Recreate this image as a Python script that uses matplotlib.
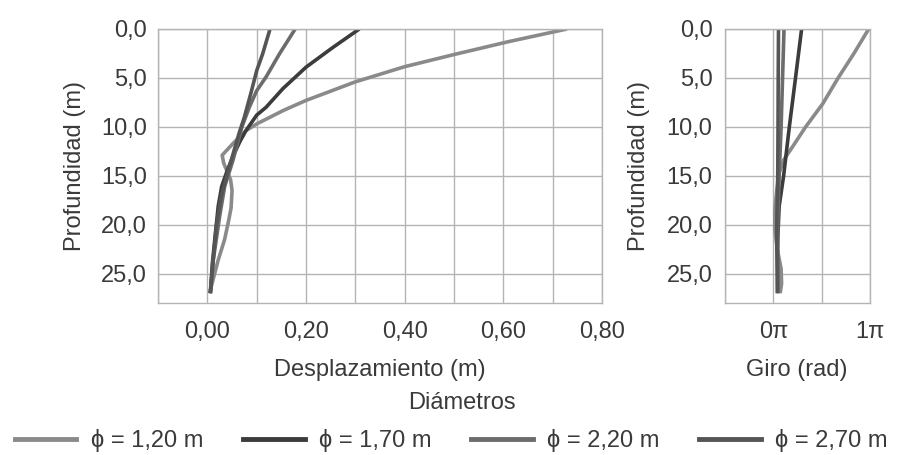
import matplotlib
matplotlib.use("Agg")
import matplotlib.pyplot as plt
from matplotlib.lines import Line2D

plt.rcParams['font.family'] = ['Liberation Sans', 'DejaVu Sans']
plt.rcParams['text.color'] = '#3a3a3a'
plt.rcParams['xtick.color'] = '#3a3a3a'
plt.rcParams['ytick.color'] = '#3a3a3a'

# series labels and colours
labels = ['ϕ = 1,20 m', 'ϕ = 1,70 m', 'ϕ = 2,20 m', 'ϕ = 2,70 m']
colors = ['#8a8a8a', '#3c3c3c', '#6c6c6c', '#555555']

# desplazamiento (m) vs profundidad (m)
depth_d_120 = [0, 1.3, 2.55, 3.85, 5.4, 7.3, 8.3, 9.7, 10.4, 11.7, 12.9, 13.7, 15.4, 16.5, 18.3, 19.6, 21.5, 23.6, 26.3, 27]
disp_120 = [0.729, 0.61, 0.505, 0.40, 0.30, 0.20, 0.155, 0.10, 0.078, 0.052, 0.030, 0.033, 0.047, 0.050, 0.048, 0.043, 0.035, 0.022, 0.008, 0.005]
depth_d_170 = [0, 1.9, 3.9, 6.1, 8.0, 8.8, 10.4, 11.5, 13.0, 14.5, 16.1, 18.1, 21.5, 24, 27]
disp_170 = [0.308, 0.254, 0.20, 0.153, 0.119, 0.10, 0.078, 0.066, 0.052, 0.040, 0.029, 0.022, 0.015, 0.010, 0.006]
depth_d_220 = [0, 2.55, 4.9, 6.3, 8.0, 10.0, 13.4, 16.1, 19.1, 23.6, 27]
disp_220 = [0.178, 0.146, 0.119, 0.10, 0.085, 0.070, 0.052, 0.035, 0.025, 0.012, 0.006]
depth_d_270 = [0, 2.55, 4.25, 6.6, 9.0, 10.7, 14.0, 17.1, 20.2, 23.5, 27]
disp_270 = [0.127, 0.112, 0.10, 0.088, 0.075, 0.064, 0.045, 0.028, 0.018, 0.012, 0.006]

# giro (en unidades de pi) vs profundidad
depth_g_120 = [0, 2.55, 5, 7.65, 10, 12.1, 13.4, 14.7, 16.5, 18.5, 20.5, 22.5, 24.5, 26, 27]
giro_120 = [0.986, 0.83, 0.67, 0.51, 0.334, 0.194, 0.106, 0.06, 0.035, 0.015, 0.015, 0.04, 0.08, 0.085, 0.07]
depth_g_170 = [0, 5, 10, 15, 18.1, 22.5, 27]
giro_170 = [0.292, 0.229, 0.165, 0.106, 0.06, 0.04, 0.05]
depth_g_220 = [0, 5, 10, 15, 20, 27]
giro_220 = [0.11, 0.095, 0.08, 0.06, 0.045, 0.05]
depth_g_270 = [0, 5, 10, 15, 20, 27]
giro_270 = [0.053, 0.05, 0.048, 0.045, 0.035, 0.04]

depth_ticks = [0, 5, 10, 15, 20, 25]
depth_ticklabels = ['0,0', '5,0', '10,0', '15,0', '20,0', '25,0']
disp_ticklabels = ['0,00', '0,20', '0,40', '0,60', '0,80']
giro_ticklabels = ['0π', '1π']

disp_series = [(disp_120, depth_d_120), (disp_170, depth_d_170),
               (disp_220, depth_d_220), (disp_270, depth_d_270)]
giro_series = [(giro_120, depth_g_120), (giro_170, depth_g_170),
               (giro_220, depth_g_220), (giro_270, depth_g_270)]

fig = plt.figure(figsize=(8.99, 4.55), dpi=100)
ax1 = fig.add_axes([0.1758, 0.3341, 0.4939, 0.6022])
ax2 = fig.add_axes([0.8065, 0.3341, 0.1613, 0.6022])

fs = 17
grid_c = '#b4b4b4'

for ax in (ax1, ax2):
    ax.set_ylim(28, 0)
    ax.set_yticks(depth_ticks)
    ax.set_yticklabels(depth_ticklabels, fontsize=fs)
    ax.grid(True, color=grid_c, linewidth=1.0)
    ax.set_axisbelow(True)
    ax.tick_params(length=0)
    for s in ax.spines.values():
        s.set_color(grid_c)
        s.set_linewidth(1.0)

# desplazamiento
for (x, y), c in zip(disp_series, colors):
    ax1.plot(x, y, color=c, linewidth=2.6, solid_capstyle='butt', solid_joinstyle='round')
ax1.set_xlim(-0.1, 0.8)
ax1.set_xticks([i / 10 for i in range(-1, 9)])
ax1.set_xticklabels([''] + sum([[lab, ''] for lab in disp_ticklabels], [])[:-1], fontsize=fs)
ax1.tick_params(axis='x', pad=13)
ax1.tick_params(axis='y', pad=8)

# giro
for (x, y), c in zip(giro_series, colors):
    ax2.plot(x, y, color=c, linewidth=2.6, solid_capstyle='butt', solid_joinstyle='round')
ax2.set_xlim(-0.5, 1.0)
ax2.set_xticks([-0.5, 0, 0.5, 1.0])
ax2.set_xticklabels(['', giro_ticklabels[0], '', giro_ticklabels[1]], fontsize=fs)
ax2.tick_params(axis='x', pad=13)
ax2.tick_params(axis='y', pad=9)

fig.text(0.0834, 0.635, 'Profundidad (m)', rotation=90, ha='center', va='center', fontsize=fs)
fig.text(0.711, 0.635, 'Profundidad (m)', rotation=90, ha='center', va='center', fontsize=fs)
fig.text(0.4227, 0.1868, 'Desplazamiento (m)', ha='center', va='center', fontsize=fs)
fig.text(0.8865, 0.1868, 'Giro (rad)', ha='center', va='center', fontsize=fs)
fig.text(0.5139, 0.1143, 'Diámetros', ha='center', va='center', fontsize=fs)

handles = [Line2D([], [], color=c, linewidth=3.5) for c in colors]
fig.legend(handles, labels, loc='center', bbox_to_anchor=(0.502, 0.031), ncol=4,
           frameon=False, fontsize=fs, handlelength=2.6, handletextpad=0.6,
           columnspacing=1.7, borderpad=0)

fig.savefig('out.png', dpi=100)
